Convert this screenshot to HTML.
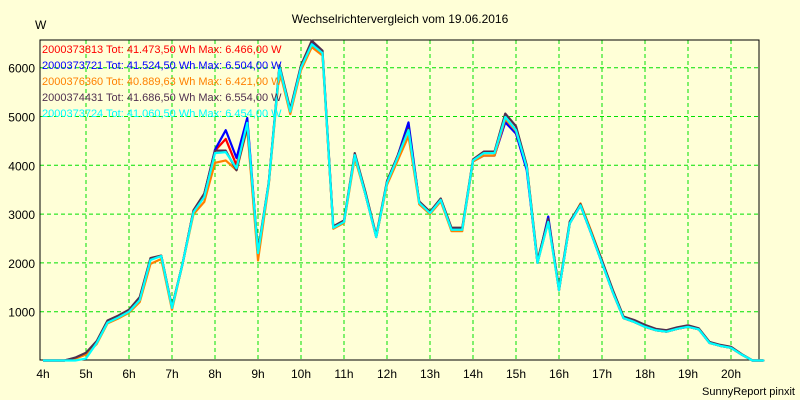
<!DOCTYPE html>
<html><head><meta charset="utf-8"><style>
body{margin:0;background:#ffffd7;}
svg{display:block;font-family:"Liberation Sans",sans-serif;}
</style></head><body>
<svg id="chart" width="800" height="400">
<rect x="0" y="0" width="800" height="400" fill="#ffffd7"/>
<text x="400" y="23" font-size="12" text-anchor="middle" fill="#000">Wechselrichtervergleich vom 19.06.2016</text>
<text x="35" y="29" font-size="12" fill="#000">W</text>
<text x="795" y="395" font-size="11" text-anchor="end" fill="#000">SunnyReport pinxit</text>
<g id="grid"></g><g id="axes"></g><g id="series"></g><g id="legend"></g>
</svg>
<script>
const xTicks=[4,5,6,7,8,9,10,11,12,13,14,15,16,17,18,19,20];
const yTicks=[1000,2000,3000,4000,5000,6000];
const seriesNames=["2000373813","2000373721","2000376360","2000374431","2000373724"];
const seriesColors=["#ff0000","#0000ff","#ff8000","#503050","#00ffff"];
const totals=["Tot: 41.473,50 Wh Max: 6.466,00 W","Tot: 41.524,50 Wh Max: 6.504,00 W","Tot: 40.889,63 Wh Max: 6.421,00 W","Tot: 41.686,50 Wh Max: 6.554,00 W","Tot: 41.060,50 Wh Max: 6.454,00 W"];
const startHour=4, stepHours=0.25;
const cyanVals=[0,0,0,0,40,360,775,880,1000,1240,2060,2140,1075,2000,3040,3350,4250,4270,3940,4870,2200,3630,6010,5100,6000,6480,6300,2720,2840,4210,3400,2530,3640,4170,4720,3230,3020,3290,2680,2680,4100,4250,4250,4990,4720,3960,2000,2840,1440,2810,3180,2600,2000,1400,870,790,690,620,590,650,690,640,360,300,260,120,0,0];
const redVals=[0,0,0,50,150,380,800,900,1030,1280,2080,2140,1075,2000,3060,3400,4300,4540,4000,4900,2200,3630,6010,5100,6000,6466,6300,2720,2840,4210,3400,2530,3640,4200,4800,3230,3020,3290,2680,2680,4100,4200,4200,4900,4650,3960,2000,2900,1440,2810,3180,2600,2000,1400,870,790,690,620,590,650,690,640,360,300,260,120,0,0];
const blueVals=[0,0,0,50,150,380,800,900,1030,1280,2080,2140,1075,2000,3060,3400,4320,4720,4150,4970,2200,3630,6010,5100,6000,6504,6300,2720,2840,4210,3400,2530,3640,4200,4880,3230,3020,3290,2680,2680,4080,4200,4200,4880,4650,3900,2000,2950,1440,2810,3180,2600,2000,1400,870,790,690,620,590,650,690,640,360,300,260,120,0,0];
const orangeVals=[0,0,0,40,120,340,760,860,980,1200,1980,2080,1040,2000,3000,3250,4050,4100,3900,4750,2050,3600,5950,5050,5950,6421,6250,2700,2820,4150,3400,2530,3600,4100,4600,3200,3000,3260,2650,2650,4080,4200,4200,4950,4700,4000,2000,2840,1440,2810,3220,2650,2050,1400,870,790,690,620,590,650,690,640,360,300,260,120,0,0];
const greyVals=[0,0,0,60,160,400,820,920,1040,1300,2100,2150,1100,2000,3080,3420,4300,4300,3900,4800,2250,3650,6050,5150,6050,6554,6350,2750,2870,4250,3450,2560,3680,4200,4750,3260,3050,3320,2720,2720,4120,4280,4280,5060,4800,4000,2050,2900,1480,2850,3200,2620,2050,1450,900,830,730,650,620,680,720,660,380,320,280,130,0,0];
const allVals=[redVals,blueVals,orangeVals,greyVals,cyanVals];
const L=40,R=759,T=40,B=360;
const xS=h=>43+43*(h-startHour);
const yS=v=>360.5-v*0.0488;
const NS="http://www.w3.org/2000/svg";
function mk(tag,attrs,parent){const e=document.createElementNS(NS,tag);for(const k in attrs)e.setAttribute(k,attrs[k]);parent.appendChild(e);return e;}
const grid=document.getElementById('grid'),axes=document.getElementById('axes'),ser=document.getElementById('series'),leg=document.getElementById('legend');
xTicks.forEach(h=>{
  const x=xS(h);
  if(h>startHour){const g=mk('line',{x1:x,x2:x,y1:T,y2:B,stroke:'#00e000','stroke-dasharray':'4,3','stroke-width':1},grid);
  
  }
  const t=mk('text',{x:x,y:378,'font-size':12,'text-anchor':'middle',fill:'#000'},axes);t.textContent=h+'h';
  
  
});
yTicks.forEach(v=>{
  const y=yS(v);
  const g=mk('line',{x1:L,x2:R,y1:y,y2:y,stroke:'#00e000','stroke-dasharray':'4,3','stroke-width':1},grid);
  
  
  const t=mk('text',{x:35,y:y+5,'font-size':12,'text-anchor':'end',fill:'#000'},axes);t.textContent=v;
  
  
});
const frame=mk('rect',{x:L,y:T,width:R-L,height:B-T,fill:'none',stroke:'#000','stroke-width':1},axes);


allVals.forEach((vals,si)=>{
  const pts=vals.map((v,i)=>xS(startHour+i*stepHours).toFixed(2)+','+yS(v).toFixed(2));
  pts.push(R+','+yS(vals[vals.length-1]).toFixed(2));
  const p=mk('polyline',{points:pts.join(' '),fill:'none',stroke:seriesColors[si],'stroke-width':2.2,'stroke-linejoin':'round'},ser);
  
  
  const t=mk('text',{x:42,y:53+si*16,'font-size':11,fill:seriesColors[si]},leg);
  t.textContent=seriesNames[si]+' '+totals[si];
  
  
});
</script>
</body></html>
